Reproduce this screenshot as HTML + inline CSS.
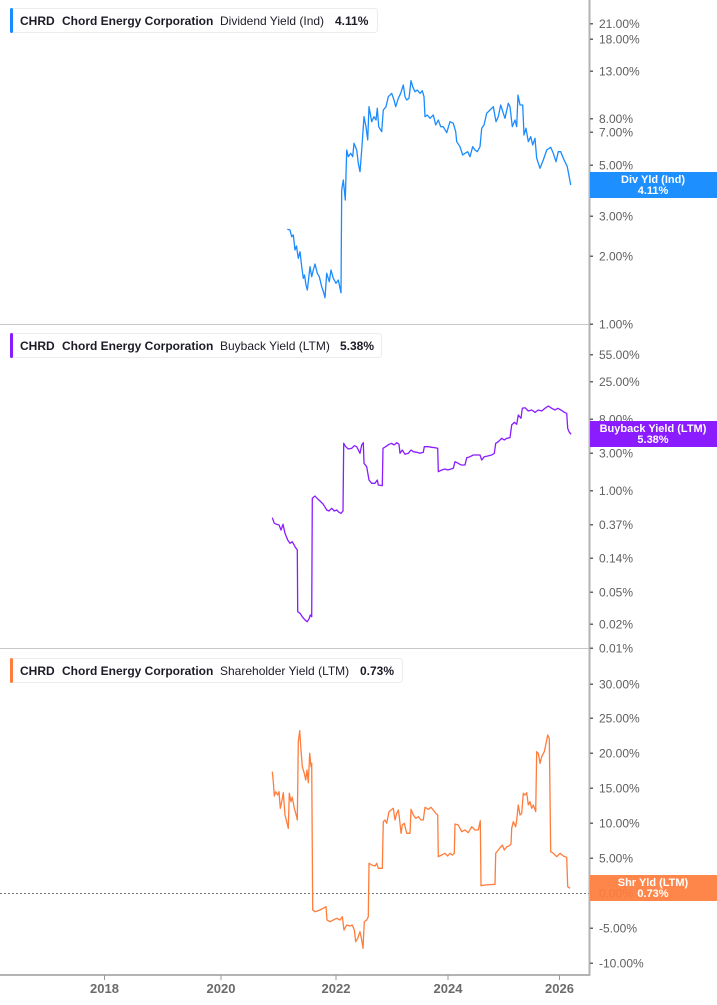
<!DOCTYPE html>
<html>
<head>
<meta charset="utf-8">
<style>
html,body{margin:0;padding:0;background:#fff;}
svg{display:block;}
.ax{font-family:"Liberation Sans",sans-serif;font-size:12px;fill:#5f5f5f;}
.xl{font-family:"Liberation Sans",sans-serif;font-size:13px;font-weight:bold;fill:#6b6b6b;}
.lg{font-family:"Liberation Sans",sans-serif;font-size:12px;fill:#1c1c28;}
.lb{font-family:"Liberation Sans",sans-serif;font-size:11px;font-weight:bold;fill:#fff;}
</style>
</head>
<body>
<svg width="717" height="1005" viewBox="0 0 717 1005" xmlns="http://www.w3.org/2000/svg">
<rect width="717" height="1005" fill="#fff"/>

<!-- separators -->
<line x1="0" y1="324.5" x2="589" y2="324.5" stroke="#c9c9c9" stroke-width="1"/>
<line x1="0" y1="648.5" x2="589" y2="648.5" stroke="#c9c9c9" stroke-width="1"/>
<!-- zero dotted line panel 3 -->
<line x1="0" y1="893.5" x2="589" y2="893.5" stroke="#777" stroke-width="1" stroke-dasharray="2,2"/>

<!-- axes -->
<line x1="589.5" y1="0" x2="589.5" y2="976" stroke="#b3b3b3" stroke-width="2"/>
<line x1="0" y1="975" x2="590" y2="975" stroke="#b3b3b3" stroke-width="2"/>

<!-- x ticks -->
<g stroke="#9a9a9a" stroke-width="1">
<line x1="104.5" y1="975" x2="104.5" y2="980"/>
<line x1="221" y1="975" x2="221" y2="980"/>
<line x1="336" y1="975" x2="336" y2="980"/>
<line x1="448" y1="975" x2="448" y2="980"/>
<line x1="559.5" y1="975" x2="559.5" y2="980"/>
</g>
<g class="xl" text-anchor="middle">
<text x="104.5" y="993">2018</text>
<text x="221" y="993">2020</text>
<text x="336" y="993">2022</text>
<text x="448" y="993">2024</text>
<text x="559.5" y="993">2026</text>
</g>

<!-- y ticks marks -->
<g fill="#666">
<rect x="590" y="23" width="3" height="1.5"/>
<rect x="590" y="38.5" width="3" height="1.5"/>
<rect x="590" y="70.5" width="3" height="1.5"/>
<rect x="590" y="118" width="3" height="1.5"/>
<rect x="590" y="131.5" width="3" height="1.5"/>
<rect x="590" y="164.5" width="3" height="1.5"/>
<rect x="590" y="215.5" width="3" height="1.5"/>
<rect x="590" y="255.5" width="3" height="1.5"/>
<rect x="590" y="323.5" width="3" height="1.5"/>
<rect x="590" y="354" width="3" height="1.5"/>
<rect x="590" y="381" width="3" height="1.5"/>
<rect x="590" y="418.5" width="3" height="1.5"/>
<rect x="590" y="452.5" width="3" height="1.5"/>
<rect x="590" y="490" width="3" height="1.5"/>
<rect x="590" y="524" width="3" height="1.5"/>
<rect x="590" y="557.5" width="3" height="1.5"/>
<rect x="590" y="591.5" width="3" height="1.5"/>
<rect x="590" y="623.5" width="3" height="1.5"/>
<rect x="590" y="647.5" width="3" height="1.5"/>
<rect x="590" y="683.5" width="3" height="1.5"/>
<rect x="590" y="717.5" width="3" height="1.5"/>
<rect x="590" y="752.5" width="3" height="1.5"/>
<rect x="590" y="787.5" width="3" height="1.5"/>
<rect x="590" y="822.5" width="3" height="1.5"/>
<rect x="590" y="857.5" width="3" height="1.5"/>
<rect x="590" y="927.5" width="3" height="1.5"/>
<rect x="590" y="962.5" width="3" height="1.5"/>
</g>

<!-- y labels -->
<g class="ax">
<text x="599" y="28">21.00%</text>
<text x="599" y="43.5">18.00%</text>
<text x="599" y="75.5">13.00%</text>
<text x="599" y="123">8.00%</text>
<text x="599" y="136.5">7.00%</text>
<text x="599" y="169.5">5.00%</text>
<text x="599" y="220.5">3.00%</text>
<text x="599" y="260.5">2.00%</text>
<text x="599" y="328.5">1.00%</text>
<text x="599" y="359">55.00%</text>
<text x="599" y="386">25.00%</text>
<text x="599" y="423.5">8.00%</text>
<text x="599" y="457.5">3.00%</text>
<text x="599" y="495">1.00%</text>
<text x="599" y="529">0.37%</text>
<text x="599" y="562.5">0.14%</text>
<text x="599" y="596.5">0.05%</text>
<text x="599" y="628.5">0.02%</text>
<text x="599" y="652.5">0.01%</text>
<text x="599" y="688.5">30.00%</text>
<text x="599" y="722.5">25.00%</text>
<text x="599" y="757.5">20.00%</text>
<text x="599" y="792.5">15.00%</text>
<text x="599" y="827.5">10.00%</text>
<text x="599" y="862.5">5.00%</text>
<text x="599" y="897.5">0.00%</text>
<text x="599" y="932.5">-5.00%</text>
<text x="599" y="967.5">-10.00%</text>
</g>

<!-- series 1 -->
<polyline fill="none" stroke="#1a8cff" stroke-width="1.3" stroke-linejoin="round" points="287.3,229.3 290,230 291.7,236.7 293.3,235 295,250 296.5,246 298.3,258.3 300,251.7 301.7,266.7 303.3,278.3 304.5,275 306,285 307.3,290 308.5,280 310,266.7 311.7,276.7 313.3,270 315,264 317.3,273.3 319.3,276.7 321.7,286.7 323.5,292 325,297.7 326.7,273.3 329.3,281.7 331,270 333.3,278.3 336,283.3 338.3,280 340,288.3 341,292.7 341.7,190 343.3,180 345.3,200 346.7,150 348.3,156.7 350.7,153.3 352.7,156.7 354,143.3 356.7,150 358.3,163.3 360,171.7 361.7,150 364,116.7 366,126.7 367.7,140 369,106.7 371.7,121.7 374,116.7 376,120 377.3,108.3 378.7,126.7 381.7,131.7 383.3,110 386,106.7 388.3,96.7 391.7,93.3 394,100 395.7,106.7 398.3,98.3 400.7,93.3 403.3,85 405,96.7 406.7,100 409,98.3 411,80.7 412.7,86.7 415,91.7 417.3,90 420,93.3 422.3,90.7 424,96.7 425,116.7 427.3,115 430,118.3 433.3,115 435.7,125 438.3,120 440.7,126.7 443.3,126.7 446.7,132.7 450,121.7 453.3,123.3 455.7,131.7 456.7,141.7 460,146.7 462.7,155 465,153.3 467.7,151.7 470,156.7 472.7,146.7 475,150 477.3,151.7 480,146.7 481.7,128.3 484,125 486.7,113.3 490,110 493.3,106.7 496,121.7 498.3,116.7 500.7,105 503.3,113.3 505,118.3 508.3,103.3 510,106.7 512.3,126.7 515,120 516.7,126.7 518,95 520,105 522.7,105 524,135 526,128.3 528.3,141.7 530.7,136.7 532.7,145 535,138.3 536.7,158.3 540,168.3 543.3,160 546.7,150 550.7,147.3 553.3,153.3 556,161.7 558.3,151.7 560.7,151.7 563.3,158.3 567.3,166.7 570.7,185"/>

<!-- series 2 -->
<polyline fill="none" stroke="#8a1cff" stroke-width="1.3" stroke-linejoin="round" points="272.3,517.7 274.3,523.3 276.7,524.3 279,525 281,530 283,524.3 285,533.3 287.7,540 290,543.3 292.3,541.7 295,546.7 297.3,550 297.7,611.7 300,613.3 302.3,616.7 305,620 307.3,621.7 309.3,618.3 310.3,615 311.7,616.7 312.3,498.3 315,496 317.7,499 320,501 323.3,504.3 326.7,510 329,511 331.7,508.3 334.3,511 336.7,510 339,512.3 341,513.3 343,511 343.7,443.3 345.7,446.7 348.3,449 351.7,448.3 354.3,445.7 356.7,446.7 358.3,450 360,453.3 361.7,445 363.3,442.7 364,463.3 366.7,466.7 369,480 371.7,483.3 375,483.3 377.3,480 378.3,485 382.3,485.7 383,448.3 385.7,446.7 389,444.3 391.7,443.3 394,445 396.7,442.7 399,444.3 400,453.3 402.3,450 405,454.3 408.3,453.3 411,450 413.3,451.7 416.7,452.3 420,453.3 423.3,452.3 424.3,446.7 428.3,446.7 431.7,447.3 435,447.7 437.7,448.3 438.3,471.7 441.7,470 445,469 447.7,470 451,469 453.3,468.3 455,461.7 458.3,463.3 461,465 465,465 466.7,457.7 470,456.7 473.3,455 476.7,455 480,455 481.7,460 484.3,456.7 487.7,456 491.7,455 494.3,453.3 495.7,443.3 498.3,441.7 501.7,438.3 504.3,440 506.7,438.3 510,437.7 511.7,425 514.3,422.3 516.7,424.3 518.3,415 521,418.3 522.3,408.3 525,407.7 528.3,411 531.7,410 535,412.3 538.3,410 541.7,411 545,408.3 548.3,406 551.7,408.3 555,410 557.7,408.3 561,410 564.3,412.3 566.7,413.3 567.7,428.3 569,431.7 571,434.3"/>

<!-- series 3 -->
<polyline fill="none" stroke="#ff7d3c" stroke-width="1.3" stroke-linejoin="round" points="272.3,771.7 273.3,781.7 274.3,796 275.7,791.7 277.7,795 279,791.7 280.3,808.3 281.7,801.7 283.3,792.7 285,815 286.7,821.7 288.3,828.3 289.3,793.3 291,801.7 292.3,797.3 294.3,808.3 296.7,816.7 297.3,820 298.3,741.7 299.7,730.7 301,750 302.3,766.7 304.3,773.3 305.7,780 307,770 308.3,782.7 309.7,753.3 311,766.7 311.7,763.3 312.7,910 315,911.7 320,910 326,906.7 327,920 330,921.7 333.3,920 336.7,918.3 340,920 342.3,916.7 344,930 346.7,925 350,926 352.3,925 354.3,930 355.7,941.7 357.7,938.3 360,931.7 361.7,940 363,948.3 364.3,921.7 366.7,920 368.3,916.7 369,863.3 371.7,865 375,866 376.7,863.3 378.3,868.3 382.3,868.3 383.3,821.7 385,820 386.7,823.3 389,811.7 391,810 393.3,808.3 395,820 396.7,813.3 398.3,810 399.3,816.7 401,833.3 402.3,825 404.3,823.3 406.7,833.3 410,833.3 411,809.3 413.3,815 415.7,818.3 418.3,816.7 421,820 423.3,820 425,807.3 428.3,809.3 431,807.3 433.3,810 435.7,813.3 437.7,815 438.3,856.7 441.7,855 445,853.3 447.7,856 450,853.3 452.3,855 454.3,853.3 455,824 458.3,825 461.7,831.7 465,830 468.3,832.7 471.7,826.7 475,830 478.3,830 480.3,820.7 481,885.7 485,885 495,884.3 495.7,853.3 498.3,850 501,846.7 502.3,845 504.3,850 506.7,846.7 509,846 511,844 511.7,828.3 513.3,821.7 515.7,826.7 516.7,820 518.3,805 520,815 521.7,813.3 523.3,793.3 525,795 526.7,792.7 528.3,805 530,801.7 531.7,808.3 533.3,805 535.7,811.7 536.7,751.7 538.3,753.3 540,763.3 541.7,756.7 544.3,751.7 545.7,745 547.7,735 549.3,738.3 550.7,851.7 553.3,853.3 556.7,856.7 560,853.3 563.3,856 566.7,857.3 567.7,886.7 570,888.3"/>

<!-- legends -->
<g>
<rect x="10.5" y="8.5" width="367" height="24" rx="3" fill="#fff" stroke="#ececec"/>
<rect x="10" y="8" width="3" height="25" rx="1.5" fill="#1a8cff"/>
<text class="lg" x="20" y="25"><tspan font-weight="bold">CHRD</tspan><tspan x="62" font-weight="bold">Chord Energy Corporation</tspan><tspan x="220">Dividend Yield (Ind)</tspan><tspan x="335" font-weight="bold">4.11%</tspan></text>

<rect x="10.5" y="333.5" width="371" height="24" rx="3" fill="#fff" stroke="#ececec"/>
<rect x="10" y="333" width="3" height="25" rx="1.5" fill="#8a1cff"/>
<text class="lg" x="20" y="350"><tspan font-weight="bold">CHRD</tspan><tspan x="62" font-weight="bold">Chord Energy Corporation</tspan><tspan x="220">Buyback Yield (LTM)</tspan><tspan x="340" font-weight="bold">5.38%</tspan></text>

<rect x="10.5" y="658.5" width="392" height="24" rx="3" fill="#fff" stroke="#ececec"/>
<rect x="10" y="658" width="3" height="25" rx="1.5" fill="#ff7d3c"/>
<text class="lg" x="20" y="675"><tspan font-weight="bold">CHRD</tspan><tspan x="62" font-weight="bold">Chord Energy Corporation</tspan><tspan x="220">Shareholder Yield (LTM)</tspan><tspan x="360" font-weight="bold">0.73%</tspan></text>
</g>

<!-- value label boxes -->
<rect x="590" y="172" width="127" height="26" fill="#1e8fff"/>
<text class="lb" x="653" y="183" text-anchor="middle">Div Yld (Ind)</text>
<text class="lb" x="653" y="194" text-anchor="middle">4.11%</text>

<rect x="590" y="421" width="127" height="26" fill="#8a1cff"/>
<text class="lb" x="653" y="432" text-anchor="middle">Buyback Yield (LTM)</text>
<text class="lb" x="653" y="443" text-anchor="middle">5.38%</text>

<rect x="590" y="875" width="127" height="26" fill="#ff7d3c" fill-opacity="0.93"/>
<text class="lb" x="653" y="886" text-anchor="middle">Shr Yld (LTM)</text>
<text class="lb" x="653" y="897" text-anchor="middle">0.73%</text>
</svg>
</body>
</html>
